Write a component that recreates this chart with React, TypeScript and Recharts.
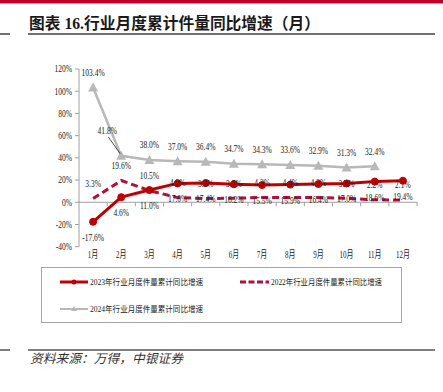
import React from 'react';
import { LineChart, Line, XAxis, YAxis, ReferenceLine, LabelList } from 'recharts';

// ---------- data ----------
const months = ['1月', '2月', '3月', '4月', '5月', '6月', '7月', '8月', '9月', '10月', '11月', '12月'];
const growth2023 = [-17.6, 4.6, 11.0, 17.0, 17.4, 16.2, 15.5, 15.9, 16.4, 17.0, 18.6, 19.4];
const growth2022 = [3.3, 19.6, 10.5, 4.2, 3.3, 3.7, 4.3, 4.4, 4.2, 3.6, 2.2, 2.1];
const growth2024 = [103.4, 41.8, 38.0, 37.0, 36.4, 34.7, 34.3, 33.6, 32.9, 31.3, 32.4];
const yTicks = [-40, -20, 0, 20, 40, 60, 80, 100, 120];
const name2023 = '2023年行业月度件量累计同比增速';
const name2022 = '2022年行业月度件量累计同比增速';
const name2024 = '2024年行业月度件量累计同比增速';
const titleText = '图表 16.行业月度累计件量同比增速（月）';
const sourceText = '资料来源：万得，中银证券';

const data = months.map((m, i) => ({
  month: m,
  y2023: growth2023[i] ?? null,
  y2022: growth2022[i] ?? null,
  y2024: growth2024[i] ?? null,
}));

// ---------- layout / style ----------
const W = 443;
const H = 392;
const PLOT_L = 79;
const PLOT_R = 417;
const PLOT_T = 69;
const PLOT_B = 246.7;
const BAND = (PLOT_R - PLOT_L) / 12;
const Y_MIN = -40;
const Y_MAX = 120;
const ZERO_Y = PLOT_T + ((Y_MAX - 0) / (Y_MAX - Y_MIN)) * (PLOT_B - PLOT_T);

const RED = '#C00000';
const DASH_RED = '#B0103A';
const GRAY = '#B8B8B8';
const AXIS = '#A0A0A0';
const SERIF = '"Liberation Serif", "Times New Roman", "Noto Sans CJK SC", serif';

const fmt = (v: number) => `${v.toFixed(1)}%`;

const makeLabel = (dy: number) => (props: any) => {
  const px = props.x ?? props.viewBox?.x;
  const py = props.y ?? props.viewBox?.y;
  if (px == null || py == null || props.value == null) return null;
  return (
    <text
      transform={`translate(${px},${py + dy}) scale(0.75,1)`}
      textAnchor="middle"
      dominantBaseline="central"
      fontSize={10}
      fontFamily={SERIF}
      fill="#222"
    >
      {fmt(Number(props.value))}
    </text>
  );
};

const label2024 = (props: any) => {
  const px = props.x ?? props.viewBox?.x;
  const py = props.y ?? props.viewBox?.y;
  if (px == null || py == null || props.value == null) return null;
  if (props.index === 1) {
    return (
      <g>
        <line x1={px - 13} y1={py - 19} x2={px - 1} y2={py - 2} stroke="#222" strokeWidth={0.8} />
        <text
          transform={`translate(${px - 14},${py - 25}) scale(0.75,1)`}
          textAnchor="middle"
          dominantBaseline="central"
          fontSize={10}
          fontFamily={SERIF}
          fill="#222"
        >
          {fmt(Number(props.value))}
        </text>
      </g>
    );
  }
  return makeLabel(-15)(props);
};

const TriangleDot = (props: any) => {
  const { cx, cy } = props;
  if (cx == null || cy == null || props.value == null) return null;
  return <polygon points={`${cx},${cy - 5} ${cx + 5},${cy + 4} ${cx - 5},${cy + 4}`} fill={GRAY} />;
};

const YTick = (props: any) => {
  const { x, y, payload } = props;
  return (
    <text
      transform={`translate(${x},${y}) scale(0.75,1)`}
      textAnchor="end"
      dominantBaseline="central"
      fontSize={10}
      fontFamily={SERIF}
      fill="#222"
    >
      {`${payload.value}%`}
    </text>
  );
};

const XTick = (props: any) => {
  const { x, y, payload } = props;
  return (
    <g>
      <line x1={x + BAND / 2} y1={ZERO_Y} x2={x + BAND / 2} y2={ZERO_Y + 4} stroke={AXIS} strokeWidth={1} />
      <text
        transform={`translate(${x},${y}) scale(0.7,1)`}
        textAnchor="middle"
        dominantBaseline="central"
        fontSize={10}
        fontFamily={SERIF}
        fill="#222"
      >
        {payload.value}
      </text>
    </g>
  );
};

const legendItems = [
  { name: name2023, kind: 'solid', x: 60, y: 282, tx: 90, tl: 113 },
  { name: name2022, kind: 'dash', x: 240, y: 282, tx: 271, tl: 111 },
  { name: name2024, kind: 'gray', x: 60, y: 309, tx: 90, tl: 113 },
];

export default function App() {
  return (
    <div style={{ position: 'absolute', left: 0, top: 0, width: W, height: H, background: '#fff' }}>
      <svg width={W} height={H} style={{ position: 'absolute', left: 0, top: 0 }}>
        <rect x={0} y={0} width={W} height={3.5} fill="#C0002A" />
        <text
          x={29}
          y={28.5}
          fontSize={16}
          fontWeight="bold"
          fontFamily={SERIF}
          fill="#1a1a1a"
          textLength={291}
          lengthAdjust="spacingAndGlyphs"
        >
          {titleText}
        </text>
        <line x1={0} y1={34} x2={10} y2={34} stroke="#404040" strokeWidth={1.5} />
        <line x1={28} y1={34} x2={435} y2={34} stroke="#404040" strokeWidth={1.5} />

        {/* legend */}
        <rect x={41.5} y={267.5} width={360} height={55} fill="none" stroke="#A6A6A6" strokeWidth={1} />
        {legendItems.map((it) => (
          <g key={it.name}>
            {it.kind === 'solid' && (
              <g>
                <line x1={it.x} y1={it.y} x2={it.x + 28} y2={it.y} stroke={RED} strokeWidth={3} />
                <circle cx={it.x + 14} cy={it.y} r={2.5} fill={RED} />
              </g>
            )}
            {it.kind === 'dash' && (
              <line x1={it.x} y1={it.y} x2={it.x + 29} y2={it.y} stroke={DASH_RED} strokeWidth={3} strokeDasharray="6 2.5" />
            )}
            {it.kind === 'gray' && (
              <g>
                <line x1={it.x} y1={it.y} x2={it.x + 28} y2={it.y} stroke={GRAY} strokeWidth={2} />
                <polygon points={`${it.x + 14},${it.y - 3} ${it.x + 17},${it.y + 2} ${it.x + 11},${it.y + 2}`} fill={GRAY} />
              </g>
            )}
            <text
              x={it.tx}
              y={it.y}
              dominantBaseline="central"
              fontSize={8.5}
              fontFamily={SERIF}
              fill="#222"
              textLength={it.tl}
              lengthAdjust="spacingAndGlyphs"
            >
              {it.name}
            </text>
          </g>
        ))}

        <line x1={0} y1={350} x2={10} y2={350} stroke="#7F7F7F" strokeWidth={2} />
        <line x1={28} y1={350} x2={435} y2={350} stroke="#7F7F7F" strokeWidth={2} />
        <text
          x={30}
          y={363}
          fontSize={12.5}
          fontStyle="italic"
          fontFamily='"Noto Sans CJK SC", sans-serif'
          fill="#333"
          textLength={153}
          lengthAdjust="spacingAndGlyphs"
        >
          {sourceText}
        </text>
      </svg>

      <div style={{ position: 'absolute', left: 0, top: 0 }}>
        <LineChart width={W} height={H} data={data} margin={{ top: PLOT_T, right: W - PLOT_R, left: 0, bottom: H - PLOT_B - 20 }}>
          <XAxis
            dataKey="month"
            height={20}
            axisLine={false}
            tickLine={false}
            interval={0}
            padding={{ left: BAND / 2, right: BAND / 2 }}
            tick={<XTick />}
          />
          <YAxis
            width={PLOT_L}
            domain={[Y_MIN, Y_MAX]}
            ticks={yTicks}
            interval={0}
            axisLine={{ stroke: AXIS, strokeWidth: 1 }}
            tickLine={{ stroke: AXIS, strokeWidth: 1 }}
            tickSize={4}
            tickMargin={3}
            tick={<YTick />}
          />
          <ReferenceLine y={0} stroke={AXIS} strokeWidth={1} />
          <Line
            dataKey="y2024"
            name={name2024}
            stroke={GRAY}
            strokeWidth={2.5}
            dot={<TriangleDot />}
            activeDot={false}
            isAnimationActive={false}
          >
            <LabelList dataKey="y2024" content={label2024} />
          </Line>
          <Line
            dataKey="y2022"
            name={name2022}
            stroke={DASH_RED}
            strokeWidth={3}
            strokeDasharray="7 4"
            dot={false}
            activeDot={false}
            isAnimationActive={false}
          >
            <LabelList dataKey="y2022" content={makeLabel(-15)} />
          </Line>
          <Line
            dataKey="y2023"
            name={name2023}
            stroke={RED}
            strokeWidth={3}
            dot={{ r: 3.5, fill: RED, stroke: RED, strokeWidth: 1 }}
            activeDot={false}
            isAnimationActive={false}
          >
            <LabelList dataKey="y2023" content={makeLabel(15.5)} />
          </Line>
        </LineChart>
      </div>
    </div>
  );
}
